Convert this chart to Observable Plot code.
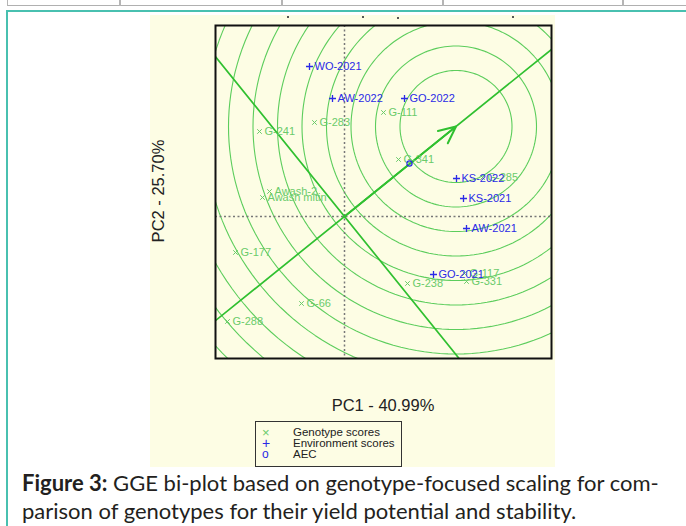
<!DOCTYPE html>
<html><head><meta charset="utf-8">
<script src="https://cdn.jsdelivr.net/npm/d3@7"></script>
<script src="https://cdn.jsdelivr.net/npm/@observablehq/plot@0.6"></script>
<style>
html,body{margin:0;padding:0;background:#fff;width:686px;height:526px;overflow:hidden;position:relative;font-family:"Liberation Sans",Arial,sans-serif;}
.abs{position:absolute;}
.vsep{position:absolute;top:0;width:1.5px;height:6px;background:#b5b5b5;}
.speck{position:absolute;width:2px;height:2px;background:#555;}
#legend span{position:absolute;white-space:nowrap;line-height:11px;}
</style></head><body>
<div class="abs" style="left:7px;top:0;width:680px;height:5px;border-left:1.5px solid #b5b5b5;border-bottom:1.5px solid #b0b0b0;"></div>
<div class="vsep" style="left:119px"></div><div class="vsep" style="left:281px"></div>
<div class="vsep" style="left:442px"></div><div class="vsep" style="left:622px"></div>
<div class="abs" style="left:6px;top:10px;width:700px;height:600px;border-left:2px solid #48c0b0;border-top:2px solid #48c0b0;"></div>
<div id="chart" class="abs" style="left:150px;top:15px;width:405px;height:452px;background:#fdfde4;"></div>
<div class="speck" style="left:287px;top:16px"></div><div class="speck" style="left:362px;top:16px"></div>
<div class="speck" style="left:397px;top:17px"></div><div class="speck" style="left:512px;top:16px"></div>
<div id="xlab" class="abs" style="left:283px;top:396px;width:200px;height:18px;line-height:18px;text-align:center;font-size:16.5px;color:#222;"></div>
<div id="ylab" class="abs" style="left:58px;top:182px;width:200px;height:18px;line-height:18px;text-align:center;font-size:16.5px;color:#222;transform:rotate(-90deg);transform-origin:50% 50%;"></div>
<div id="legend" class="abs" style="left:255px;top:421px;width:147px;height:46px;border:1px solid #333;box-sizing:border-box;font-size:11.5px;color:#222;"></div>
<div id="caption" class="abs" style="left:22px;top:469px;font-family:Lato,'Open Sans',sans-serif;font-size:22px;line-height:28px;color:#231f20;white-space:nowrap;"></div>
<script>
// ---- data ----
const envNames = ["WO-2021","AW-2022","GO-2022","KS-2022","KS-2021","AW-2021","GO-2021"];
const envPC1   = [-0.70, -0.24, 1.20, 2.24, 2.38, 2.44, 1.78];
const envPC2   = [ 3.00,  2.36, 2.36, 0.76, 0.36, -0.24, -1.16];
const genNames = ["G-241","G-283","G-111","G-341","G-285","Awash-2","Awash mitin","G-177","G-66","G-288","G-238","G-331","G-117"];
const genPC1   = [-1.70, -0.60, 0.78, 1.08, 2.76, -1.50, -1.64, -2.18, -0.86, -2.34, 1.26, 2.44, 2.40];
const genPC2   = [ 1.70,  1.88, 2.08, 1.14, 0.78,  0.50,  0.38, -0.72, -1.74, -2.10, -1.34, -1.30, -1.14];
const aecPoint   = [1.30, 1.06];
const idealPoint = [2.23, 1.80];
const circleRadii = [1.12, 1.61, 2.10, 2.59, 3.08, 3.57, 4.06, 4.55, 5.04, 5.53, 6.02, 6.51];
const xDomain = [-2.58, 4.14];
const yDomain = [-2.84, 3.82];
const xTitle = "PC1 - 40.99%";
const yTitle = "PC2 - 25.70%";
const legendLabels = ["Genotype scores","Environment scores","AEC"];
const captionBold = "Figure 3:";
const captionLine1 = " GGE bi-plot based on genotype-focused scaling for com-";
const captionLine2 = "parison of genotypes for their yield potential and stability.";

// ---- build ----
const envData = envNames.map((name,i)=>({name, pc1: envPC1[i], pc2: envPC2[i]}));
const genData = genNames.map((name,i)=>({name, pc1: genPC1[i], pc2: genPC2[i]}));
const circles = circleRadii.flatMap(r => d3.range(0, 361, 2).map(a => ({
  r, x: idealPoint[0] + r*Math.cos(a*Math.PI/180), y: idealPoint[1] + r*Math.sin(a*Math.PI/180)})));
const norm = Math.hypot(idealPoint[0], idealPoint[1]);
const ux = idealPoint[0]/norm, uy = idealPoint[1]/norm, L = 20;
const aecLine = [{x:-L*ux, y:-L*uy},{x:L*ux, y:L*uy}];
const perpLine = [{x:-L*uy, y:L*ux},{x:L*uy, y:-L*ux}];

const GREEN_C = "#5ccd5c", GREEN_L = "#30c030", GEN = "#6acb6a", ENV = "#2a2ae6";
const font = "'Liberation Sans', Arial, sans-serif";

const chart = Plot.plot({
  width: 405, height: 452,
  marginLeft: 65, marginTop: 10, marginRight: 4, marginBottom: 109,
  x: {domain: xDomain, axis: null},
  y: {domain: yDomain, axis: null},
  style: {background: "transparent", fontFamily: font},
  marks: [
    Plot.line(circles, {x:"x", y:"y", z:"r", stroke:GREEN_C, strokeWidth:1.1, clip:true}),
    Plot.ruleX([0], {stroke:"#777", strokeDasharray:"2,2.5", strokeWidth:1.5}),
    Plot.ruleY([0], {stroke:"#777", strokeDasharray:"2,2.5", strokeWidth:1.5}),
    Plot.line(aecLine, {x:"x", y:"y", stroke:GREEN_L, strokeWidth:1.7, clip:true}),
    Plot.line(perpLine, {x:"x", y:"y", stroke:GREEN_L, strokeWidth:1.7, clip:true}),
    Plot.arrow([{x1:0, y1:0, x2:idealPoint[0], y2:idealPoint[1]}],
      {x1:"x1", y1:"y1", x2:"x2", y2:"y2", stroke:GREEN_L, strokeWidth:2, headLength:14, headAngle:50}),
    Plot.dot(genData, {x:"pc1", y:"pc2", symbol:"times", r:2.2, stroke:GEN, strokeWidth:1}),
    Plot.text(genData, {x:"pc1", y:"pc2", text:"name", textAnchor:"start", dx:5, fill:GEN, fontSize:11}),
    Plot.dot(envData, {x:"pc1", y:"pc2", symbol:"plus", r:2.4, stroke:ENV, strokeWidth:1.3}),
    Plot.text(envData, {x:"pc1", y:"pc2", text:"name", textAnchor:"start", dx:5, fill:ENV, fontSize:11}),
    Plot.dot([aecPoint], {x:d=>d[0], y:d=>d[1], r:2.6, stroke:ENV, strokeWidth:1.2, fill:"none"}),
    Plot.frame({stroke:"#111", strokeWidth:2})
  ]
});
document.getElementById("chart").appendChild(chart);
document.getElementById("xlab").textContent = xTitle;
document.getElementById("ylab").textContent = yTitle;

const leg = document.getElementById("legend");
const syms = [["×", GEN, "13px"], ["+", ENV, "14px"], ["o", ENV, "12px"]];
legendLabels.forEach((lab, i) => {
  const s = document.createElement("span");
  s.textContent = syms[i][0]; s.style.color = syms[i][1]; s.style.fontSize = syms[i][2];
  s.style.left = "6px"; s.style.top = (5 + i*11) + "px";
  leg.appendChild(s);
  const t = document.createElement("span");
  t.textContent = lab; t.style.left = "37px"; t.style.top = (5 + i*11) + "px";
  leg.appendChild(t);
});
const cap = document.getElementById("caption");
const b = document.createElement("b"); b.textContent = captionBold; cap.appendChild(b);
cap.appendChild(document.createTextNode(captionLine1));
cap.appendChild(document.createElement("br"));
cap.appendChild(document.createTextNode(captionLine2));
</script>
</body></html>
